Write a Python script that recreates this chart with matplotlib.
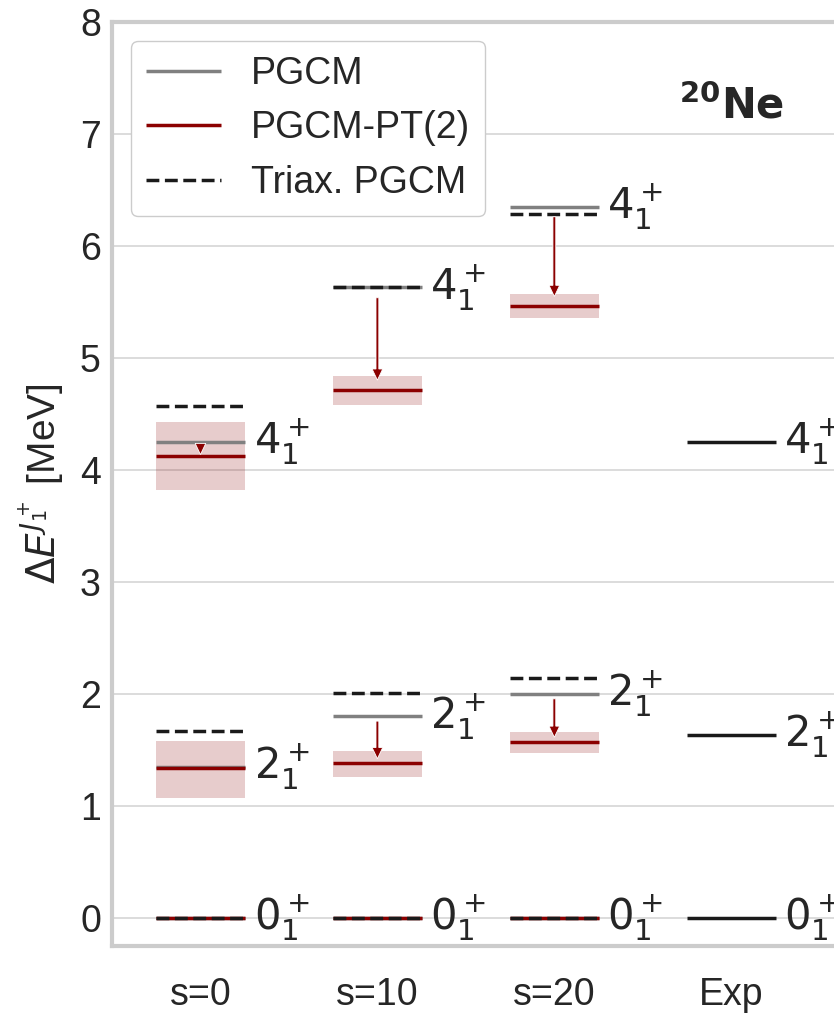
import matplotlib
matplotlib.use("Agg")
import matplotlib.pyplot as plt
import numpy as np

plt.rcParams['font.family'] = ['Liberation Sans', 'DejaVu Sans']
plt.rcParams['mathtext.fontset'] = 'dejavusans'

# columns on the x axis
columns = ['s=0', 's=10', 's=20', 'Exp']
states = ['0', '2', '4']

# energies [MeV] for 0+, 2+, 4+ in each column (s=0, s=10, s=20)
pgcm = [[0.0, 1.35, 4.25], [0.0, 1.80, 5.63], [0.0, 2.00, 6.35]]
pt2 = [[0.0, 1.34, 4.125], [0.0, 1.38, 4.71], [0.0, 1.57, 5.46]]
pt2_lo = [[0.0, 1.07, 3.82], [0.0, 1.26, 4.58], [0.0, 1.47, 5.36]]
pt2_hi = [[0.0, 1.58, 4.43], [0.0, 1.49, 4.84], [0.0, 1.66, 5.57]]
triax = [[0.0, 1.67, 4.57], [0.0, 2.01, 5.63], [0.0, 2.14, 6.29]]
exp = [0.0, 1.634, 4.248]

txt = '#262626'
half = 0.25

fig = plt.figure(figsize=(8.34, 10.15), dpi=100)
ax = fig.add_axes([112/834, 69/1015, 752/834, 924/1015])

for i in range(3):
    x0, x1 = i - half, i + half
    for j in range(3):
        if pt2_hi[i][j] > pt2_lo[i][j]:
            ax.fill_between([x0, x1], pt2_lo[i][j], pt2_hi[i][j],
                            color='darkred', alpha=0.2, lw=0, zorder=2)
        ax.hlines(pgcm[i][j], x0, x1, color='gray', lw=2.5, zorder=3,
                  label='PGCM' if i == 0 and j == 0 else None)
        ax.hlines(pt2[i][j], x0, x1, color='darkred', lw=2.5, zorder=4,
                  label='PGCM-PT(2)' if i == 0 and j == 0 else None)
        ax.hlines(triax[i][j], x0, x1, color='#1a1a1a', lw=2.5, ls='--', zorder=5,
                  label='Triax. PGCM' if i == 0 and j == 0 else None)
        dy = pt2[i][j] - pgcm[i][j]
        if abs(dy) > 0.05:
            ax.arrow(i, pgcm[i][j] + 0.1*dy, 0, 0.8*dy, width=0.016,
                     head_width=0.06, head_length=0.1, length_includes_head=True,
                     fc='darkred', ec='white', lw=0.6, zorder=6)
        ax.text(i + 0.3, pgcm[i][j], '$%s_1^+$' % states[j], fontsize=30,
                ha='left', va='center', color=txt, family='DejaVu Sans')

for j in range(3):
    ax.hlines(exp[j], 3 - half, 3 + half, color='#1a1a1a', lw=2.5, zorder=5)
    ax.text(3.3, exp[j], '$%s_1^+$' % states[j], fontsize=30,
            ha='left', va='center', color=txt, family='DejaVu Sans')

ax.text(3.0, 7.25, r'$\mathbf{^{20}Ne}$', fontsize=30, ha='center', va='center',
        color=txt, family='DejaVu Sans')

ax.set_xlim(-0.5, 3.75)
ax.set_ylim(-0.25, 8)
ax.set_xticks(range(len(columns)))
ax.set_xticklabels(columns)
ax.set_yticks(range(0, 9))
ax.tick_params(length=0, labelsize=27, labelcolor=txt)
ax.tick_params(axis='x', pad=22)
ax.tick_params(axis='y', pad=8)
ax.set_ylabel(r'$\Delta E^{J_1^+}$ [MeV]', fontsize=28, color=txt, labelpad=10)
ax.grid(axis='y', color='#d5d5d5', lw=1.2, zorder=0)
ax.set_axisbelow(True)
for sp in ax.spines.values():
    sp.set_color('#cccccc')
    sp.set_linewidth(3)

leg = ax.legend(loc='upper left', fontsize=27, frameon=True, edgecolor='#cccccc',
                framealpha=1, labelcolor=txt)

fig.savefig('out.png', dpi=100)
